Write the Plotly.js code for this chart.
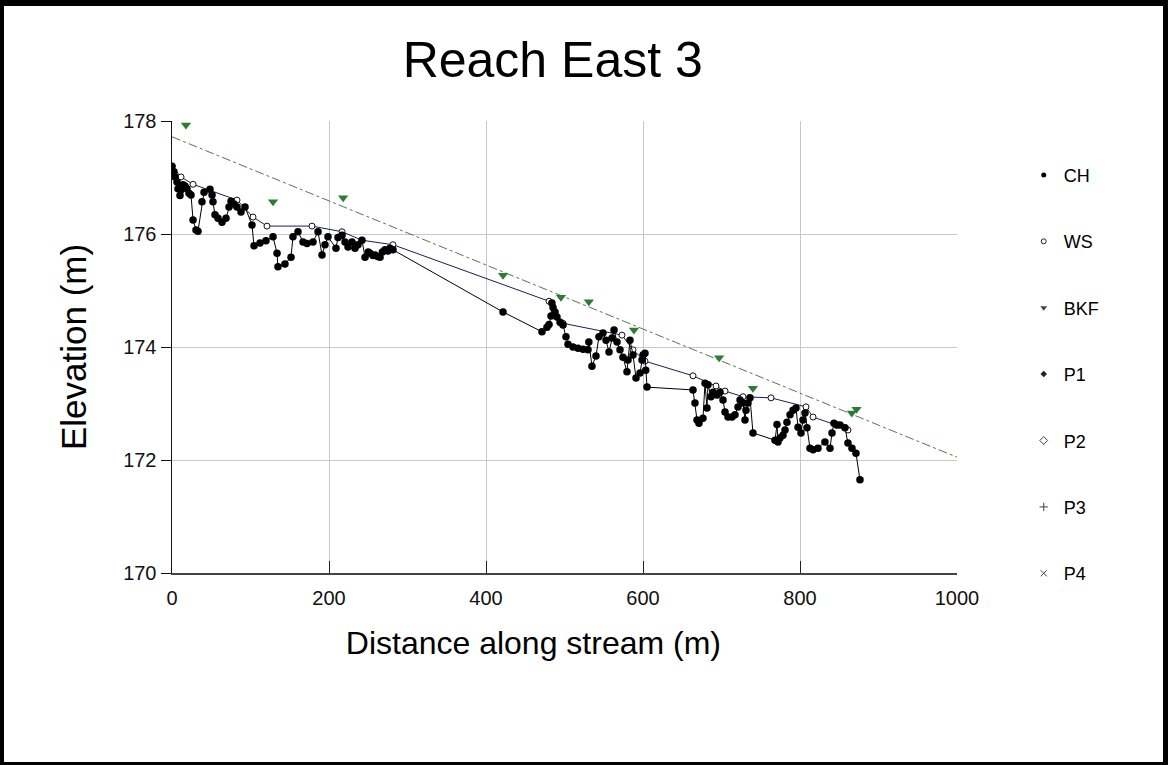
<!DOCTYPE html>
<html>
<head>
<meta charset="utf-8">
<script src="https://cdn.plot.ly/plotly-3.0.1.min.js"></script>
<style>
  html, body { margin: 0; padding: 0; background: #fff; }
  #wrap { position: relative; width: 1168px; height: 765px; }
  #chart { position: absolute; left: 0; top: 0; width: 1168px; height: 765px; }
  #frame { position: absolute; left: 0; top: 0; width: 1168px; height: 765px; box-sizing: border-box;
           border-style: solid; border-color: #000; border-width: 6px 5px 3px 4px; pointer-events: none; }
</style>
</head>
<body>
<div id="wrap"><div id="chart"></div><div id="frame"></div></div>
<script>
// Channel bed (CH) profile
const chDist = [0, 2.5, 3.8, 6.4, 7.6, 10.2, 11.5, 14.0, 16.6, 19.1, 21.7, 24.2, 26.8, 30.6, 33.1, 38.2, 40.8, 48.4, 51.0, 52.2,
  54.8, 58.6, 63.7, 68.8, 72.6, 75.2, 79.0, 82.8, 87.9, 93.0, 101.9, 104.5, 112.1, 119.7, 128.7, 133.8, 135.0, 143.9, 151.6, 154.1,
  160.5, 166.9, 172.0, 179.6, 186.0, 191.1, 194.9, 198.7, 208.9, 211.5, 216.6, 220.4, 224.2, 229.3, 233.1, 236.9, 242.0, 245.9, 250.0, 252.2,
  256.0, 258.6, 262.0, 265.0, 268.0, 271.3, 275.0, 277.7, 281.5, 421.7, 471.3, 477.7, 480.3, 482.8, 484.0, 485.4, 487.9, 490.4, 494.3, 498.1,
  501.9, 504.5, 510.8, 517.2, 523.6, 529.9, 531.0, 535.0, 540.1, 543.9, 549.0, 552.9, 556.7, 560.5, 563.1, 566.9, 570.7, 574.5, 579.6, 580.9,
  583.4, 587.3, 591.1, 596.2, 598.7, 600.0, 602.5, 603.5, 605.1, 663.7, 666.2, 668.8, 671.3, 676.4, 679.0, 681.5, 682.8, 686.6, 689.2, 694.3,
  698.1, 701.9, 704.5, 708.3, 713.4, 717.2, 721.0, 723.6, 727.4, 729.9, 731.2, 733.8, 736.3, 740.1, 768.2, 770.7, 772.0, 774.5, 778.3, 780.9,
  783.4, 787.3, 791.1, 794.9, 797.5, 801.3, 803.8, 806.4, 808.9, 812.7, 816.6, 822.9, 831.8, 838.2, 840.8, 843.3, 847.1, 851.0, 857.3, 861.1,
  866.2, 871.3, 876.4];
const chElev = [177.20, 177.10, 177.01, 176.92, 176.80, 176.68, 176.78, 176.87, 176.85, 176.80, 176.72, 176.69, 176.25, 176.07, 176.05, 176.57, 176.74, 176.79, 176.69, 176.57,
  176.34, 176.28, 176.21, 176.28, 176.48, 176.58, 176.53, 176.48, 176.39, 176.48, 176.16, 175.79, 175.84, 175.88, 175.95, 175.66, 175.42, 175.47, 175.59, 175.95,
  176.04, 175.86, 175.83, 175.86, 176.04, 175.63, 175.81, 175.95, 175.75, 175.94, 175.98, 175.86, 175.77, 175.86, 175.75, 175.81, 175.89, 175.59, 175.68, 175.66,
  175.62, 175.63, 175.60, 175.59, 175.68, 175.72, 175.70, 175.75, 175.72, 174.62, 174.27, 174.35, 174.40, 174.55, 174.78, 174.70, 174.62, 174.53, 174.44, 174.39,
  174.18, 174.05, 174.00, 173.98, 173.96, 173.95, 174.09, 173.66, 173.84, 174.18, 174.25, 174.12, 173.91, 174.16, 174.30, 174.09, 173.95, 173.82, 173.56, 173.77,
  174.12, 173.86, 173.45, 173.54, 173.77, 173.86, 173.89, 173.59, 173.29, 173.24, 173.01, 172.71, 172.65, 172.74, 173.36, 172.92, 173.33, 173.12, 173.20, 173.15,
  173.20, 173.06, 172.85, 172.76, 172.76, 172.80, 172.94, 173.06, 173.01, 172.71, 172.88, 173.01, 173.10, 172.48, 172.35, 172.63, 172.32, 172.39, 172.44, 172.53,
  172.67, 172.80, 172.88, 172.92, 172.58, 172.48, 172.71, 172.83, 172.57, 172.21, 172.18, 172.21, 172.32, 172.21, 172.48, 172.65, 172.62, 172.62, 172.57, 172.30,
  172.21, 172.12, 171.65];

// Water surface (WS)
const wsDist = [0, 11.5, 26.8, 82.8, 103.2, 121.0, 178.3, 216.6, 242.0, 281.5, 480.3, 498.1, 573.2, 587.3, 602.5, 663.7, 693.0, 704.5, 727.4, 763.1, 807.6, 816.6, 845.9, 861.1];
const wsElev = [177.20, 177.01, 176.88, 176.60, 176.30, 176.14, 176.14, 176.04, 175.89, 175.81, 174.81, 174.42, 174.21, 173.95, 173.75, 173.49, 173.31, 173.22, 173.12, 173.10, 172.94, 172.76, 172.62, 172.53];

// Bankfull (BKF) points and fitted bankfull line
const bkfDist = [17.8, 128.7, 218.0, 421.7, 495.5, 531.0, 588.5, 697.0, 740.0, 866.0, 872.0];
const bkfElev = [177.93, 176.57, 176.64, 175.27, 174.88, 174.80, 174.30, 173.81, 173.27, 172.83, 172.90];
const bkfLineDist = [0, 1000];
const bkfLineElev = [177.72, 172.05];

// Pools (no data in this reach)
const p1Dist = [], p1Elev = [];
const p2Dist = [], p2Elev = [];
const p3Dist = [], p3Elev = [];
const p4Dist = [], p4Elev = [];

const xTicks = [0, 200, 400, 600, 800, 1000];
const yTicks = [170, 172, 174, 176, 178];
const legendNames = ['CH', 'WS', 'BKF', 'P1', 'P2', 'P3', 'P4'];

const FONT = 'Liberation Sans, Arial, Helvetica, sans-serif';

const traces = [
  { x: bkfLineDist, y: bkfLineElev, mode: 'lines', line: { color: '#4f7a4f', width: 1, dash: 'dashdot' }, showlegend: false, hoverinfo: 'skip' },
  { x: wsDist, y: wsElev, mode: 'lines+markers', line: { color: '#1c1c5a', width: 1 },
    marker: { symbol: 'circle', size: 6, color: '#fff', line: { color: '#111', width: 1 } }, showlegend: false },
  { x: chDist, y: chElev, mode: 'lines+markers', line: { color: '#000', width: 1 },
    marker: { symbol: 'circle', size: 7.5, color: '#000' }, showlegend: false },
  { x: bkfDist, y: bkfElev, mode: 'markers', marker: { symbol: 'triangle-down', size: 9, color: '#2e7b35' }, showlegend: false },
  { x: p1Dist, y: p1Elev, mode: 'markers', showlegend: false },
  { x: p2Dist, y: p2Elev, mode: 'markers', showlegend: false },
  { x: p3Dist, y: p3Elev, mode: 'markers', showlegend: false },
  { x: p4Dist, y: p4Elev, mode: 'markers', showlegend: false }
];

// Legend entries (markers only, small as in the original)
const legendMarkers = [
  { symbol: 'circle', size: 5, color: '#000' },
  { symbol: 'circle-open', size: 5, color: '#222', line: { width: 1 } },
  { symbol: 'triangle-down', size: 6, color: '#444' },
  { symbol: 'diamond', size: 5, color: '#222' },
  { symbol: 'diamond-open', size: 6, color: '#444', line: { width: 1 } },
  { symbol: 'cross-thin-open', size: 6, color: '#444', line: { width: 1, color: '#444' } },
  { symbol: 'x-thin-open', size: 6, color: '#444', line: { width: 1, color: '#444' } }
];
legendNames.forEach((nm, i) => {
  traces.push({ x: [null], y: [null], mode: 'markers', name: nm, legendgroup: 'g' + i,
    marker: legendMarkers[i], showlegend: true, hoverinfo: 'skip' });
});

const layout = {
  width: 1168, height: 765,
  margin: { l: 172, r: 211, t: 121, b: 192 },
  paper_bgcolor: '#fff', plot_bgcolor: '#fff',
  font: { family: FONT, color: '#000' },
  title: { text: 'Reach East 3', font: { size: 50, family: FONT, color: '#000' },
           xref: 'paper', x: 0.485, xanchor: 'center', yref: 'container', y: 0.922, yanchor: 'middle' },
  xaxis: {
    range: [0, 1000], tickvals: xTicks, ticktext: xTicks.map(String),
    showgrid: true, gridcolor: '#c8c8c8', gridwidth: 1, zeroline: false,
    showline: true, linecolor: '#444', linewidth: 2,
    ticks: 'inside', ticklen: 12, tickcolor: '#222', tickwidth: 1,
    tickfont: { size: 20, family: FONT, color: '#111' }, ticklabelstandoff: 6,
    title: { text: 'Distance along stream (m)' + '&nbsp;'.repeat(7), font: { size: 32, family: FONT, color: '#000' }, standoff: 24 },
    automargin: false, fixedrange: true
  },
  yaxis: {
    range: [170, 178], tickvals: yTicks, ticktext: yTicks.map(String),
    showgrid: true, gridcolor: '#c8c8c8', gridwidth: 1, zeroline: false,
    showline: true, linecolor: '#111', linewidth: 1.5,
    ticks: 'outside', ticklen: 10, tickcolor: '#111', tickwidth: 1,
    tickfont: { size: 20, family: FONT, color: '#111' },
    title: { text: 'Elevation (m)', font: { size: 35, family: FONT, color: '#000' }, standoff: 26 },
    automargin: false, fixedrange: true
  },
  legend: {
    x: 1.085, xanchor: 'left', y: 0.921, yanchor: 'top',
    traceorder: 'grouped', tracegroupgap: 40,
    font: { size: 18, family: FONT, color: '#000' },
    bgcolor: 'rgba(0,0,0,0)', borderwidth: 0, itemwidth: 30
  },
  showlegend: true
};

Plotly.newPlot('chart', traces, layout, { staticPlot: true, displayModeBar: false });
</script>
</body>
</html>
